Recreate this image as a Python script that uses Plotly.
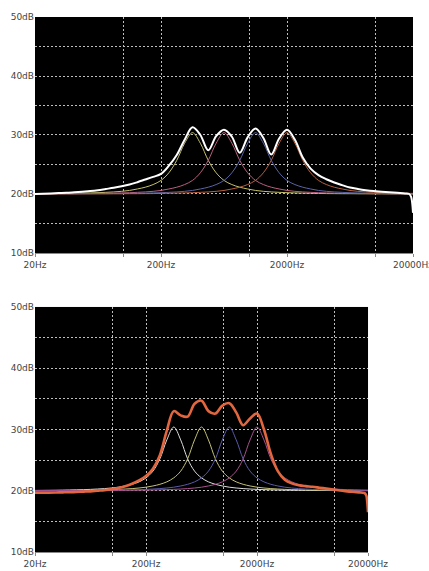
import math
import plotly.graph_objects as go

# Frequency sample points (Hz), 1/16 decade apart from 20 Hz to 20 kHz
FREQ = [20, 23.1, 26.67, 30.8, 35.57, 41.07, 47.43, 54.77, 63.25, 73.03,
        84.34, 97.39, 112.5, 129.9, 150.0, 173.2, 200, 231.0, 266.7, 308.0,
        355.7, 410.7, 474.3, 547.7, 632.5, 730.3, 843.4, 973.9, 1125, 1299,
        1500, 1732, 2000, 2310, 2667, 3080, 3557, 4107, 4743, 5477,
        6325, 7303, 8434, 9739, 11250, 12990, 15000, 17320, 20000]
TAIL_FREQ = [18660, 19320, 19680, 20000]

# ---- top chart: four peaking bands and their combined response (dB)
TOP_BAND1 = [20.05, 20.05, 20.06, 20.07, 20.1, 20.12, 20.15, 20.18, 20.22, 20.28,
             20.35, 20.45, 20.6, 20.85, 21.15, 21.6, 22.3, 23.6, 25.7, 28.6,
             30.4, 28.6, 25.7, 23.6, 22.3, 21.6, 21.15, 20.85, 20.6, 20.45,
             20.35, 20.28, 20.22, 20.18, 20.15, 20.12, 20.1, 20.07, 20.06, 20.05,
             20.05, 20.04, 20.04, 20.03, 20.03, 20.02, 20.02, 20.01, 20.0]
TOP_BAND2 = [20.03, 20.03, 20.04, 20.04, 20.05, 20.05, 20.06, 20.07, 20.1, 20.12,
             20.15, 20.18, 20.22, 20.28, 20.35, 20.45, 20.6, 20.85, 21.15, 21.6,
             22.3, 23.6, 25.7, 28.6, 30.4, 28.6, 25.7, 23.6, 22.3, 21.6,
             21.15, 20.85, 20.6, 20.45, 20.35, 20.28, 20.22, 20.18, 20.15, 20.12,
             20.1, 20.07, 20.06, 20.05, 20.05, 20.04, 20.04, 20.03, 20.03]
TOP_BAND3 = [20.02, 20.02, 20.03, 20.03, 20.03, 20.03, 20.04, 20.04, 20.05, 20.05,
             20.06, 20.07, 20.1, 20.12, 20.15, 20.18, 20.22, 20.28, 20.35, 20.45,
             20.6, 20.85, 21.15, 21.6, 22.3, 23.6, 25.7, 28.6, 30.4, 28.6,
             25.7, 23.6, 22.3, 21.6, 21.15, 20.85, 20.6, 20.45, 20.35, 20.28,
             20.22, 20.18, 20.15, 20.12, 20.1, 20.07, 20.06, 20.05, 20.05]
TOP_BAND4 = [20.01, 20.01, 20.02, 20.02, 20.02, 20.02, 20.03, 20.03, 20.03, 20.03,
             20.04, 20.04, 20.05, 20.05, 20.06, 20.07, 20.1, 20.12, 20.15, 20.18,
             20.22, 20.28, 20.35, 20.45, 20.6, 20.85, 21.15, 21.6, 22.3, 23.6,
             25.7, 28.6, 30.4, 28.6, 25.7, 23.6, 22.3, 21.6, 21.15, 20.85,
             20.6, 20.45, 20.35, 20.28, 20.22, 20.18, 20.15, 20.12, 20.1]
TOP_SUM = [20.0, 20.05, 20.1, 20.15, 20.2, 20.3, 20.4, 20.5, 20.65, 20.85,
           21.05, 21.3, 21.6, 22.0, 22.45, 22.9, 23.4, 24.8, 26.6, 29.2,
           31.3, 30.0, 27.4, 29.8, 30.9, 29.7, 27.0, 29.6, 31.1, 29.5,
           26.7, 29.4, 30.9, 29.2, 26.2, 24.3, 23.2, 22.5, 21.95, 21.5,
           21.1, 20.85, 20.65, 20.5, 20.4, 20.3, 20.2, 20.1,
           20.0, 19.5, 18.6, 16.8]

# ---- bottom chart
BOT_BAND1 = [20.05, 20.06, 20.07, 20.08, 20.1, 20.12, 20.15, 20.18, 20.22, 20.28,
             20.35, 20.45, 20.58, 20.78, 21.05, 21.45, 22.1, 23.2, 25.2, 28.3,
             30.4, 28.3, 25.2, 23.2, 22.1, 21.45, 21.05, 20.78, 20.58, 20.45,
             20.35, 20.28, 20.22, 20.18, 20.15, 20.12, 20.1, 20.08, 20.07, 20.06,
             20.05, 20.05, 20.04, 20.04, 20.03, 20.03, 20.03, 20.02, 20.02]
BOT_BAND2 = [20.03, 20.04, 20.04, 20.05, 20.05, 20.06, 20.07, 20.08, 20.1, 20.12,
             20.15, 20.18, 20.22, 20.28, 20.35, 20.45, 20.58, 20.78, 21.05, 21.45,
             22.1, 23.2, 25.2, 28.3, 30.4, 28.3, 25.2, 23.2, 22.1, 21.45,
             21.05, 20.78, 20.58, 20.45, 20.35, 20.28, 20.22, 20.18, 20.15, 20.12,
             20.1, 20.08, 20.07, 20.06, 20.05, 20.05, 20.04, 20.04, 20.03]
BOT_BAND3 = [20.02, 20.02, 20.03, 20.03, 20.03, 20.04, 20.04, 20.05, 20.05, 20.06,
             20.07, 20.08, 20.1, 20.12, 20.15, 20.18, 20.22, 20.28, 20.35, 20.45,
             20.58, 20.78, 21.05, 21.45, 22.1, 23.2, 25.2, 28.3, 30.4, 28.3,
             25.2, 23.2, 22.1, 21.45, 21.05, 20.78, 20.58, 20.45, 20.35, 20.28,
             20.22, 20.18, 20.15, 20.12, 20.1, 20.08, 20.07, 20.06, 20.05]
BOT_BAND4 = [20.01, 20.02, 20.02, 20.02, 20.02, 20.03, 20.03, 20.03, 20.03, 20.04,
             20.04, 20.05, 20.05, 20.06, 20.07, 20.08, 20.1, 20.12, 20.15, 20.18,
             20.22, 20.28, 20.35, 20.45, 20.58, 20.78, 21.05, 21.45, 22.1, 23.2,
             25.2, 28.3, 30.4, 28.3, 25.2, 23.2, 22.1, 21.45, 21.05, 20.78,
             20.58, 20.45, 20.35, 20.28, 20.22, 20.18, 20.15, 20.12, 20.1]
BOT_SUM = [19.7, 19.7, 19.7, 19.72, 19.74, 19.76, 19.8, 19.85, 19.9, 20.0,
           20.1, 20.25, 20.45, 20.75, 21.15, 21.7, 22.4, 23.6, 25.8, 29.8,
           33.0, 32.3, 32.1, 34.2, 34.7, 33.0, 32.6, 33.9, 34.3, 32.8,
           30.7, 31.8, 32.6, 30.0, 26.0, 23.2, 21.8, 21.2, 20.9, 20.75,
           20.65, 20.5, 20.35, 20.2, 20.05, 19.9, 19.8, 19.7,
           19.6, 19.2, 18.2, 16.5]

X_TICKS = [20, 100, 200, 1000, 2000, 10000, 20000]
X_LABELS = ["20Hz", "", "200Hz", "", "2000Hz", "", "20000Hz"]
Y_TICKS = [10, 15, 20, 25, 30, 35, 40, 45, 50]
Y_LABELS = ["10dB", "", "20dB", "", "30dB", "", "40dB", "", "50dB"]

TOP_COLORS = ["#c4c26a", "#b8607e", "#5a64a4", "#b8603e"]
BOT_COLORS = ["#dcdcdc", "#c4c276", "#5a5aa8", "#a8508e"]

fig = go.Figure()

for vals, col in zip([TOP_BAND1, TOP_BAND2, TOP_BAND3, TOP_BAND4], TOP_COLORS):
    fig.add_trace(go.Scatter(x=FREQ, y=vals, mode="lines", xaxis="x", yaxis="y",
                             line=dict(color=col, width=1, shape="spline", smoothing=1.0)))
fig.add_trace(go.Scatter(x=FREQ[:-1] + TAIL_FREQ, y=TOP_SUM, mode="lines", xaxis="x", yaxis="y",
                         line=dict(color="#ffffff", width=2, shape="spline", smoothing=1.0)))

for vals, col in zip([BOT_BAND1, BOT_BAND2, BOT_BAND3, BOT_BAND4], BOT_COLORS):
    fig.add_trace(go.Scatter(x=FREQ, y=vals, mode="lines", xaxis="x2", yaxis="y2",
                             line=dict(color=col, width=1, shape="spline", smoothing=1.0)))
fig.add_trace(go.Scatter(x=FREQ[:-1] + TAIL_FREQ, y=BOT_SUM, mode="lines", xaxis="x2", yaxis="y2",
                         line=dict(color="#e2663e", width=2.6, shape="spline", smoothing=1.0)))

font = dict(family="DejaVu Sans, Verdana, sans-serif", size=9, color="#444444")
grid = dict(showgrid=True, gridcolor="#bdbdbd", gridwidth=1, griddash="2px,2px", zeroline=False)

xcommon = dict(type="log", range=[math.log10(20), math.log10(20000)],
               tickmode="array", tickvals=X_TICKS, ticktext=X_LABELS,
               ticks="outside", ticklen=3, tickcolor="#888888",
               showline=True, linecolor="#888888", linewidth=1,
               tickfont=font, automargin=False, ticklabeloverflow="allow", **grid)
ycommon = dict(range=[10, 50], tickmode="array", tickvals=Y_TICKS, ticktext=Y_LABELS,
               ticks="", showline=False, tickfont=font, automargin=False,
               ticklabeloverflow="allow", **grid)

fig.update_layout(
    width=429, height=571,
    margin=dict(l=35, r=16, t=17, b=19),
    paper_bgcolor="#ffffff", plot_bgcolor="#000000",
    showlegend=False,
    xaxis=dict(domain=[0, 1], anchor="y", **xcommon),
    yaxis=dict(domain=[0.5589, 1], anchor="x", **ycommon),
    xaxis2=dict(domain=[0, 0.881], anchor="y2", **xcommon),
    yaxis2=dict(domain=[0, 0.458], anchor="x2", **ycommon),
)

fig.write_html("out.html",
               config={"displayModeBar": False},
               post_script="document.body.style.margin='0';document.body.style.overflow='hidden';")
